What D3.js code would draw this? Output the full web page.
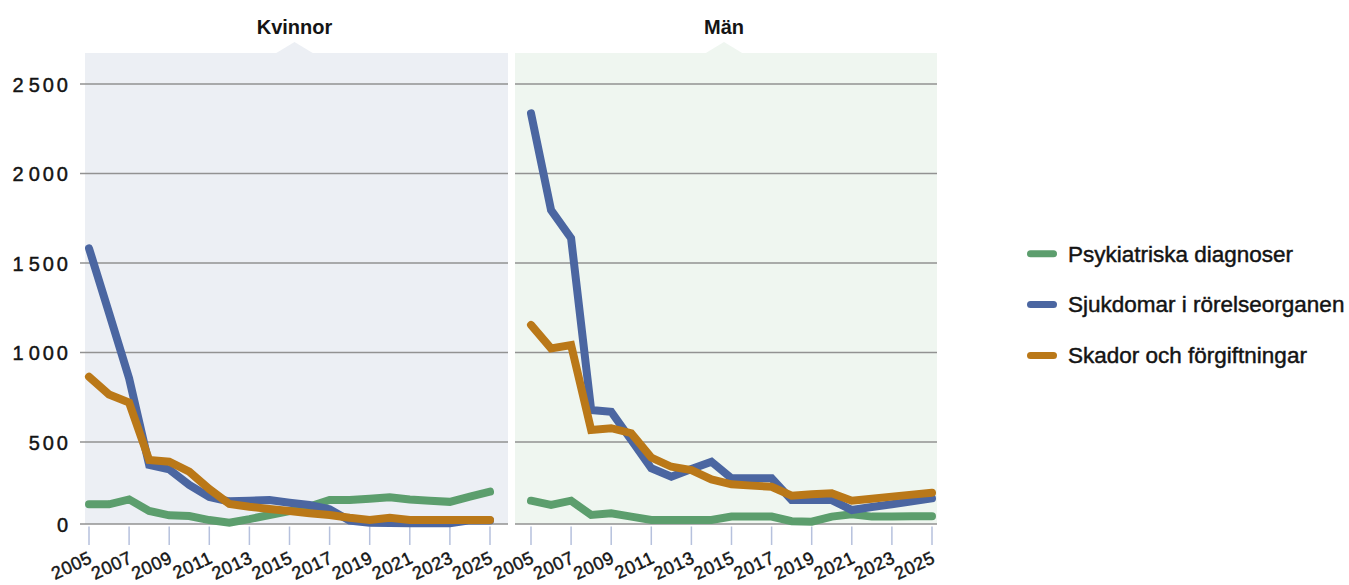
<!DOCTYPE html>
<html>
<head>
<meta charset="utf-8">
<script src="https://cdn.jsdelivr.net/npm/d3@7"></script>
<style>
  html, body { margin: 0; padding: 0; background: #ffffff; }
  svg { display: block; }
  text { font-family: "Liberation Sans", Arial, Helvetica, sans-serif; fill: #141414; }
</style>
</head>
<body>
<svg id="chart" width="1349" height="585"></svg>
<script>
// ---------- data ----------
const years = [2005, 2006, 2007, 2008, 2009, 2010, 2011, 2012, 2013, 2014, 2015,
               2016, 2017, 2018, 2019, 2020, 2021, 2022, 2023, 2024, 2025];
const tickYears = [2005, 2007, 2009, 2011, 2013, 2015, 2017, 2019, 2021, 2023, 2025];
const yTicks = [0, 500, 1000, 1500, 2000, 2500];
const panelNames = ["Kvinnor", "Män"];
const seriesNames = ["Psykiatriska diagnoser", "Sjukdomar i rörelseorganen", "Skador och förgiftningar"];

// Kvinnor
const kvinnorPsyk   = [120, 120, 150, 80, 53, 49, 24, 8, 30, 55, 79, 106, 146, 146, 154, 163, 150, 142, 135, 167, 197];
const kvinnorSjuk   = [1582, 1221, 856, 360, 333, 238, 165, 138, 142, 146, 130, 116, 90, 20, 8, 6, 5, 5, 5, 22, 22];
const kvinnorSkador = [865, 765, 720, 390, 380, 319, 213, 122, 105, 91, 79, 65, 55, 38, 24, 38, 24, 24, 24, 24, 24];

// Män
const manPsyk   = [142, 116, 142, 55, 65, 45, 24, 24, 24, 24, 45, 45, 45, 17, 14, 45, 59, 45, 46, 47, 47];
const manSjuk   = [2336, 1796, 1638, 679, 669, 511, 340, 288, 335, 380, 279, 279, 279, 146, 146, 146, 85, 104, 120, 138, 157];
const manSkador = [1154, 1023, 1042, 567, 577, 549, 405, 349, 329, 272, 242, 234, 227, 173, 181, 187, 142, 154, 167, 179, 191];

// ---------- styles ----------
const seriesColors = ["#5c9e6d", "#4b66a1", "#ba7818"];
const textColor = "#141414";

const svg = d3.select("#chart");

const y = d3.scaleLinear().domain([0, 500, 2500]).range([524, 442, 84]);

const panels = [
  { name: panelNames[0], bg: "#eceff4", x0: 85, x1: 508, r0: 89, r1: 490, gx0: 80,
    series: [kvinnorPsyk, kvinnorSjuk, kvinnorSkador] },
  { name: panelNames[1], bg: "#eff6f0", x0: 515, x1: 937, r0: 531, r1: 932, gx0: 515,
    series: [manPsyk, manSjuk, manSkador] }
];

panels.forEach((p, pi) => {
  const g = svg.append("g");
  const x = d3.scaleLinear().domain([2005, 2025]).range([p.r0, p.r1]);
  const cx = (p.x0 + p.x1) / 2 - 2;

  // background
  g.append("rect")
    .attr("x", p.x0).attr("y", 53)
    .attr("width", p.x1 - p.x0).attr("height", 524 - 53)
    .attr("fill", p.bg);
  g.append("path")
    .attr("d", `M${cx - 19},53.5 L${cx},42 L${cx + 19},53.5 Z`)
    .attr("fill", p.bg);

  // title
  g.append("text")
    .attr("x", cx).attr("y", 34)
    .attr("text-anchor", "middle")
    .attr("font-size", 20).attr("font-weight", "bold")
    .text(p.name);

  // gridlines
  g.selectAll("line.grid").data(yTicks).enter().append("line")
    .attr("class", "grid")
    .attr("x1", p.gx0).attr("x2", p.x1)
    .attr("y1", d => y(d)).attr("y2", d => y(d))
    .attr("stroke", "#929292").attr("stroke-width", 1.3);

  // y labels (left panel only)
  if (pi === 0) {
    const yl = g.selectAll("text.ylab").data(yTicks).enter().append("text")
      .attr("class", "ylab")
      .attr("x", 71).attr("y", d => y(d) + 7.5)
      .attr("text-anchor", "end")
      .attr("font-size", 20)
      .attr("letter-spacing", "3px")
      .attr("stroke", textColor).attr("stroke-width", 0.45);
    yl.each(function (d) {
      const t = d3.select(this);
      if (d >= 1000) {
        t.append("tspan").text(d3.format("d")(Math.floor(d / 1000)));
        t.append("tspan").attr("dx", 2).text(d3.format("03d")(d % 1000));
      } else {
        t.text(d);
      }
    });
  }

  // x ticks
  g.selectAll("line.xt").data(tickYears).enter().append("line")
    .attr("class", "xt")
    .attr("x1", d => x(d)).attr("x2", d => x(d))
    .attr("y1", 526.5).attr("y2", 545)
    .attr("stroke", "#b6c1dd").attr("stroke-width", 1.5);

  // x labels
  g.selectAll("text.xl").data(tickYears).enter().append("text")
    .attr("class", "xl")
    .attr("text-anchor", "end")
    .attr("font-size", 18)
    .attr("letter-spacing", "0.6px")
    .attr("stroke", textColor).attr("stroke-width", 0.45)
    .attr("transform", d => `translate(${x(d) + 4.5},562) rotate(-25)`)
    .text(d => d);

  // lines
  const line = d3.line().x(d => x(d.year)).y(d => y(d.v));
  p.series.forEach((vals, si) => {
    const pts = years.map((yr, i) => ({ year: yr, v: vals[i] }));
    g.append("path")
      .attr("d", line(pts))
      .attr("fill", "none")
      .attr("stroke", seriesColors[si])
      .attr("stroke-width", 8)
      .attr("stroke-linecap", "round")
      .attr("stroke-linejoin", "miter")
      .attr("stroke-miterlimit", 4);
  });
});

// legend
const legendRowY = d3.scaleLinear().domain([0, 2]).range([253.7, 355.5]);
const lg = svg.append("g");
seriesNames.forEach((name, i) => {
  const cy = legendRowY(i);
  lg.append("line")
    .attr("x1", 1030.5).attr("x2", 1053.5)
    .attr("y1", cy).attr("y2", cy)
    .attr("stroke", seriesColors[i]).attr("stroke-width", 7)
    .attr("stroke-linecap", "round");
  lg.append("text")
    .attr("x", 1068).attr("y", cy + 7.8)
    .attr("font-size", 22.5)
    .attr("stroke", textColor).attr("stroke-width", 0.45)
    .text(name);
});
</script>
</body>
</html>
